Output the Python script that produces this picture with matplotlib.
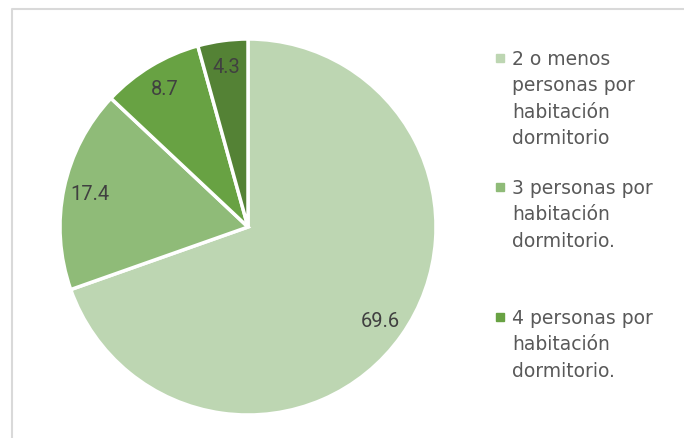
import matplotlib
matplotlib.use("Agg")
import matplotlib.pyplot as plt
from matplotlib.lines import Line2D
from matplotlib.patches import Rectangle

# data
categorias = ["2 o menos\npersonas por\nhabitación\ndormitorio",
              "3 personas por\nhabitación\ndormitorio.",
              "4 personas por\nhabitación\ndormitorio.",
              "5 o más personas por\nhabitación\ndormitorio."]
valores = [69.6, 17.4, 8.7, 4.3]
colores = ["#bdd6b2", "#8fbb78", "#68a243", "#548235"]

W, H = 684, 439
fig = plt.figure(figsize=(W / 100, H / 100), dpi=100)

# pie axes: centre (248, 228) px, radius 188 px
cx, cy, r = 248, 228, 188
ax = fig.add_axes([(cx - r) / W, (H - cy - r) / H, 2 * r / W, 2 * r / H])
wedges, texts, autotexts = ax.pie(valores, colors=colores, startangle=90, counterclock=False,
                                  autopct="%.1f", pctdistance=0.86, radius=1,
                                  wedgeprops=dict(edgecolor="white", linewidth=2.5))
for t in autotexts:
    t.set_fontsize(14.5)
    t.set_color("#404040")
    t.set_family("Roboto")
ax.set_xlim(-1, 1)
ax.set_ylim(-1, 1)
ax.axis("off")

# legend drawn by hand (Excel spaces the entries evenly, last one is cut off)
leg_y = [59, 188, 318]
for i, y in enumerate(leg_y):
    fig.patches.append(Rectangle((496 / W, (H - y - 4) / H), 8 / W, 8 / H,
                                 transform=fig.transFigure, color=colores[i]))
    for k, linea in enumerate(categorias[i].split("\n")):
        fig.text(512 / W, (H - (y + 6 + 26.5 * k)) / H, linea, fontsize=13.5, color="#595959",
                 family="DejaVu Sans", va="baseline", ha="left")

# chart area border (only top and left visible)
fig.lines.append(Line2D([11.5 / W, 11.5 / W, 1], [0, (H - 9.5) / H, (H - 9.5) / H],
                        transform=fig.transFigure, color="#d9d9d9", linewidth=1.5))

fig.savefig("out.png", dpi=100)
